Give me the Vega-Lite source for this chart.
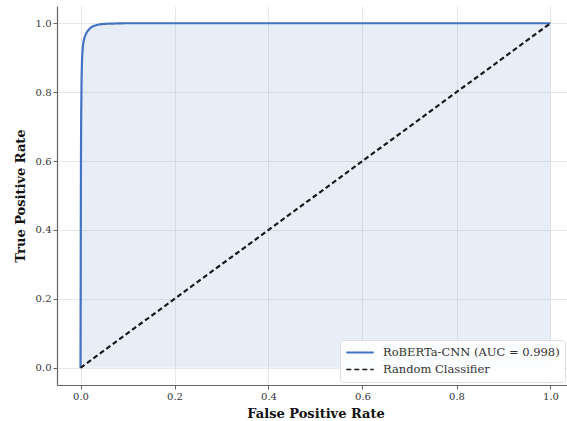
{
  "$schema": "https://vega.github.io/schema/vega-lite/v6.json",
  "autosize": {"type": "none"},
  "padding": {"left": 57, "top": 6, "right": 0, "bottom": 36},
  "width": 517,
  "height": 379,
  "background": "white",
  "config": {
    "font": "DejaVu Serif",
    "view": {"stroke": null},
    "axis": {
      "labelFont": "DejaVu Serif",
      "labelFontSize": 10,
      "labelColor": "#333333",
      "titleFont": "DejaVu Serif",
      "titleFontSize": 13,
      "titleFontWeight": "bold",
      "titleColor": "#111111",
      "gridColor": "#e3e3e3",
      "gridWidth": 0.8,
      "domainColor": "#666666",
      "domainWidth": 1.2,
      "tickColor": "#666666",
      "tickSize": 4
    }
  },
  "encoding": {
    "x": {
      "field": "fpr", "type": "quantitative",
      "scale": {"domain": [-0.05, 1.05], "nice": false, "zero": false},
      "axis": {"values": [0, 0.2, 0.4, 0.6, 0.8, 1.0], "format": ".1f", "title": "False Positive Rate", "titlePadding": 6}
    },
    "y": {
      "field": "tpr", "type": "quantitative",
      "scale": {"domain": [-0.05, 1.05], "nice": false, "zero": false},
      "axis": {"values": [0, 0.2, 0.4, 0.6, 0.8, 1.0], "format": ".1f", "title": "True Positive Rate", "titlePadding": 8}
    }
  },
  "layer": [
    {
      "data": {"values": [
        {"fpr": 0, "tpr": 0},
        {"fpr": 0.0005, "tpr": 0.3},
        {"fpr": 0.001, "tpr": 0.6},
        {"fpr": 0.002, "tpr": 0.8},
        {"fpr": 0.003, "tpr": 0.88},
        {"fpr": 0.005, "tpr": 0.93},
        {"fpr": 0.008, "tpr": 0.955},
        {"fpr": 0.012, "tpr": 0.97},
        {"fpr": 0.018, "tpr": 0.982},
        {"fpr": 0.025, "tpr": 0.99},
        {"fpr": 0.035, "tpr": 0.995},
        {"fpr": 0.05, "tpr": 0.998},
        {"fpr": 0.07, "tpr": 0.999},
        {"fpr": 0.1, "tpr": 1.0},
        {"fpr": 1.0, "tpr": 1.0}
      ]},
      "mark": {"type": "area", "color": "#4472C4", "opacity": 0.12, "interpolate": "monotone"},
      "encoding": {}
    },
    {
      "data": {"values": [
        {"fpr": 0, "tpr": 0, "series": "RoBERTa-CNN (AUC = 0.998)"},
        {"fpr": 0.0005, "tpr": 0.3, "series": "RoBERTa-CNN (AUC = 0.998)"},
        {"fpr": 0.001, "tpr": 0.6, "series": "RoBERTa-CNN (AUC = 0.998)"},
        {"fpr": 0.002, "tpr": 0.8, "series": "RoBERTa-CNN (AUC = 0.998)"},
        {"fpr": 0.003, "tpr": 0.88, "series": "RoBERTa-CNN (AUC = 0.998)"},
        {"fpr": 0.005, "tpr": 0.93, "series": "RoBERTa-CNN (AUC = 0.998)"},
        {"fpr": 0.008, "tpr": 0.955, "series": "RoBERTa-CNN (AUC = 0.998)"},
        {"fpr": 0.012, "tpr": 0.97, "series": "RoBERTa-CNN (AUC = 0.998)"},
        {"fpr": 0.018, "tpr": 0.982, "series": "RoBERTa-CNN (AUC = 0.998)"},
        {"fpr": 0.025, "tpr": 0.99, "series": "RoBERTa-CNN (AUC = 0.998)"},
        {"fpr": 0.035, "tpr": 0.995, "series": "RoBERTa-CNN (AUC = 0.998)"},
        {"fpr": 0.05, "tpr": 0.998, "series": "RoBERTa-CNN (AUC = 0.998)"},
        {"fpr": 0.07, "tpr": 0.999, "series": "RoBERTa-CNN (AUC = 0.998)"},
        {"fpr": 0.1, "tpr": 1.0, "series": "RoBERTa-CNN (AUC = 0.998)"},
        {"fpr": 1.0, "tpr": 1.0, "series": "RoBERTa-CNN (AUC = 0.998)"},
        {"fpr": 0, "tpr": 0, "series": "Random Classifier"},
        {"fpr": 1, "tpr": 1, "series": "Random Classifier"}
      ]},
      "mark": {"type": "line", "interpolate": "monotone", "strokeWidth": 2.2},
      "encoding": {
        "color": {
          "field": "series", "type": "nominal",
          "scale": {"domain": ["RoBERTa-CNN (AUC = 0.998)", "Random Classifier"], "range": ["#4472C4", "#1a1a1a"]},
          "legend": {
            "title": null, "orient": "none", "legendX": 283, "legendY": 334,
            "symbolType": "stroke", "symbolSize": 750, "symbolStrokeWidth": 2,
            "clipHeight": 15,
            "labelFont": "DejaVu Serif", "labelFontSize": 11.5, "labelColor": "#333333", "labelLimit": 0,
            "fillColor": "rgba(255,255,255,0.85)", "strokeColor": "#dddddd", "cornerRadius": 3,
            "padding": 5, "rowPadding": 2, "labelOffset": 8
          }
        },
        "strokeDash": {
          "field": "series", "type": "nominal",
          "scale": {"domain": ["RoBERTa-CNN (AUC = 0.998)", "Random Classifier"], "range": [[1, 0], [5, 3]]},
          "legend": null
        },
        "strokeWidth": {
          "field": "series", "type": "nominal",
          "scale": {"domain": ["RoBERTa-CNN (AUC = 0.998)", "Random Classifier"], "range": [2.2, 1.3]},
          "legend": null
        }
      }
    }
  ]
}
